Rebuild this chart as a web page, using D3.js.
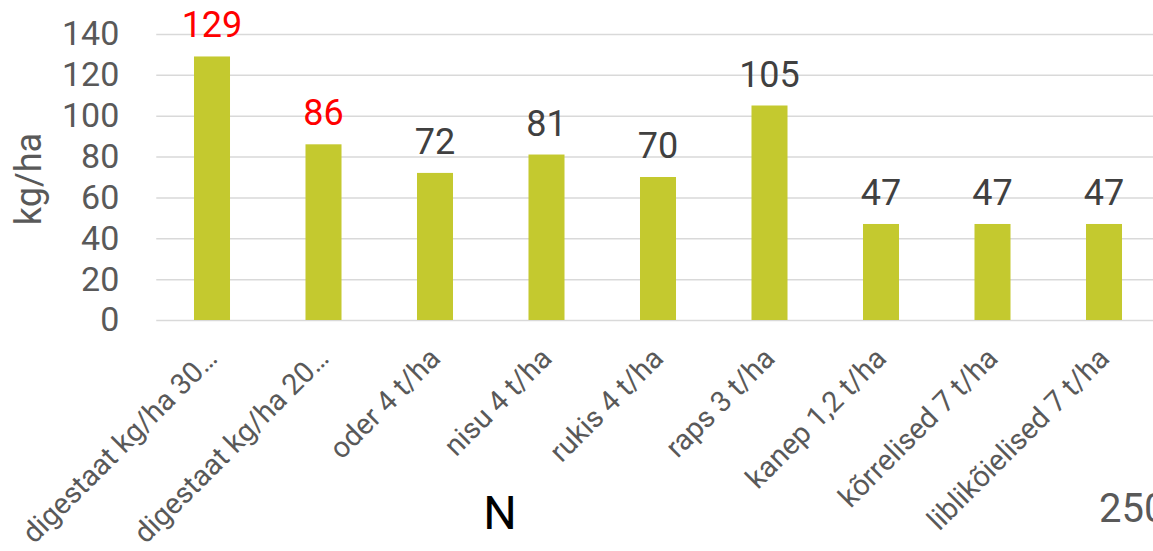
<!DOCTYPE html>
<html>
<head>
<meta charset="utf-8">
<script src="https://cdn.jsdelivr.net/npm/d3@7"></script>
<style>
  html, body { margin: 0; padding: 0; background: #fff; }
  svg { display: block; font-family: Roboto, "Noto Sans", sans-serif; }
</style>
</head>
<body>
<svg id="chart" width="1153" height="551"></svg>
<script>
// Nitrogen (N) amounts, kg/ha
const categories = [
  "digestaat kg/ha 30…",
  "digestaat kg/ha 20…",
  "oder 4 t/ha",
  "nisu 4 t/ha",
  "rukis 4 t/ha",
  "raps 3 t/ha",
  "kanep 1,2 t/ha",
  "kõrrelised 7 t/ha",
  "liblikõielised 7 t/ha"
];
const values = [129, 86, 72, 81, 70, 105, 47, 47, 47];
const highlighted = [true, true, false, false, false, false, false, false, false];
const yTicks = [0, 20, 40, 60, 80, 100, 120, 140];
const yTitle = "kg/ha";
const chartTitle = "N";
const nextAxisLabel = "250";

const svg = d3.select("#chart");

const plot = { left: 156.25, right: 1159.75, top: 34, bottom: 320 };

const x = d3.scaleBand()
  .domain(categories)
  .range([plot.left, plot.right])
  .paddingInner(0.677)
  .paddingOuter(0.3385);

const y = d3.scaleLinear()
  .domain([0, 140])
  .range([plot.bottom, plot.top]);

// Gridlines and value axis labels
const yAxis = svg.append("g")
  .attr("transform", `translate(${plot.left},0)`)
  .call(d3.axisLeft(y)
    .tickValues(yTicks)
    .tickSizeInner(-(plot.right - plot.left))
    .tickSizeOuter(0)
    .tickPadding(37));
yAxis.select(".domain").remove();
yAxis.selectAll(".tick line")
  .attr("stroke", "#d9d9d9")
  .attr("stroke-width", 1.5);
yAxis.selectAll(".tick text")
  .attr("fill", "#595959")
  .attr("font-size", 34)
  .attr("font-family", "Roboto, sans-serif");

// Bars
svg.append("g")
  .selectAll("rect")
  .data(values)
  .join("rect")
  .attr("x", (d, i) => x(categories[i]))
  .attr("width", x.bandwidth())
  .attr("y", d => y(d))
  .attr("height", d => y(0) - y(d))
  .attr("fill", "#c4c92f");

// Value labels above bars
svg.append("g")
  .selectAll("text")
  .data(values)
  .join("text")
  .attr("x", (d, i) => x(categories[i]) + x.bandwidth() / 2)
  .attr("y", d => y(d) - 19)
  .attr("text-anchor", "middle")
  .attr("font-size", 36)
  .attr("fill", (d, i) => highlighted[i] ? "#ff0000" : "#404040")
  .text(d => d);

// Category axis with rotated labels
const xAxis = svg.append("g")
  .attr("transform", `translate(0,${plot.bottom})`)
  .call(d3.axisBottom(x).tickSize(0));
xAxis.select(".domain").remove();
xAxis.selectAll(".tick text")
  .attr("x", 0)
  .attr("y", 0)
  .attr("dy", null)
  .attr("transform", "translate(7,40) rotate(-45)")
  .attr("text-anchor", "end")
  .attr("fill", "#595959")
  .attr("font-size", 29)
  .attr("font-family", "Roboto, sans-serif");

// Value axis title
svg.append("text")
  .attr("transform", "translate(29,179) rotate(-90)")
  .attr("text-anchor", "middle")
  .attr("dominant-baseline", "central")
  .attr("font-size", 36)
  .attr("fill", "#595959")
  .text(yTitle);

// Chart title under the axis
svg.append("text")
  .attr("x", 500)
  .attr("y", 529)
  .attr("text-anchor", "middle")
  .attr("font-size", 47)
  .attr("fill", "#000")
  .text(chartTitle);

// Start of the neighbouring axis, cut by the edge
svg.append("text")
  .attr("x", 1099)
  .attr("y", 522)
  .attr("font-size", 40)
  .attr("fill", "#595959")
  .text(nextAxisLabel);
</script>
</body>
</html>
